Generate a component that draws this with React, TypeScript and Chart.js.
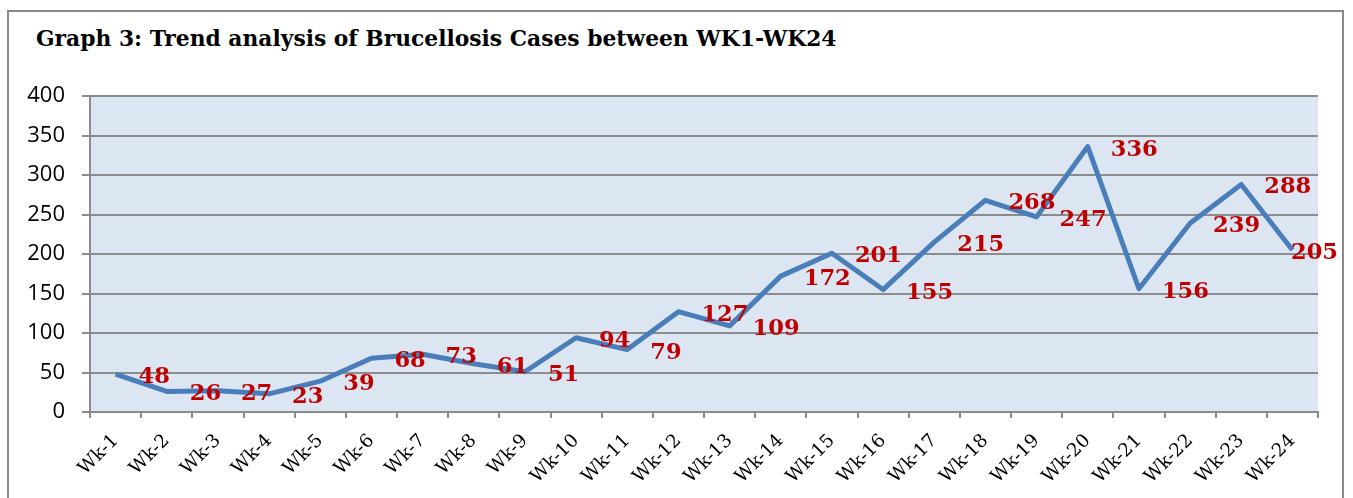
import React, { useEffect, useRef } from "react";
import { Chart, registerables } from "chart.js";

Chart.register(...registerables);

const TITLE = "Graph 3: Trend analysis of Brucellosis Cases between WK1-WK24";
const weeks = [
  "Wk-1", "Wk-2", "Wk-3", "Wk-4", "Wk-5", "Wk-6", "Wk-7", "Wk-8", "Wk-9", "Wk-10", "Wk-11", "Wk-12",
  "Wk-13", "Wk-14", "Wk-15", "Wk-16", "Wk-17", "Wk-18", "Wk-19", "Wk-20", "Wk-21", "Wk-22", "Wk-23", "Wk-24",
];
const cases = [48, 26, 27, 23, 39, 68, 73, 61, 51, 94, 79, 127, 109, 172, 201, 155, 215, 268, 247, 336, 156, 239, 288, 205];
const yMin = 0;
const yMax = 400;
const yStep = 50;

const plotBg = {
  id: "plotBg",
  beforeDraw(chart: any) {
    const { ctx, chartArea } = chart;
    ctx.save();
    ctx.fillStyle = "#dce6f2";
    ctx.fillRect(chartArea.left, chartArea.top, chartArea.right - chartArea.left, chartArea.bottom - chartArea.top);
    ctx.restore();
  },
};

const valueLabels = {
  id: "valueLabels",
  afterDatasetsDraw(chart: any) {
    const { ctx } = chart;
    const meta = chart.getDatasetMeta(0);
    const data = chart.data.datasets[0].data as number[];
    ctx.save();
    ctx.fillStyle = "#c00000";
    ctx.font = "bold 22.5px 'DejaVu Serif'";
    ctx.textAlign = "left";
    ctx.textBaseline = "alphabetic";
    const maxRight = chart.width - 15;
    meta.data.forEach((el: any, i: number) => {
      const txt = String(data[i]);
      const w = ctx.measureText(txt).width;
      const x = Math.min(el.x + 23, maxRight - w);
      ctx.fillText(txt, x, el.y + 9);
    });
    ctx.restore();
  },
};

export default function App() {
  const ref = useRef<HTMLCanvasElement | null>(null);
  useEffect(() => {
    if (!ref.current) return;
    const chart = new Chart(ref.current, {
      type: "line",
      data: {
        labels: weeks,
        datasets: [
          {
            data: cases,
            borderColor: "#4a7ebb",
            borderWidth: 5,
            pointRadius: 0,
            tension: 0,
            borderJoinStyle: "round",
            fill: false,
          },
        ],
      },
      options: {
        animation: false,
        responsive: false,
        maintainAspectRatio: false,
        layout: { padding: { top: 96, right: 35, left: 0, bottom: 0 } },
        plugins: { legend: { display: false }, title: { display: false }, tooltip: { enabled: false } },
        scales: {
          x: {
            offset: true,
            grid: { offset: true, drawOnChartArea: false, drawTicks: true, tickLength: 6, color: "#8c8c8c", lineWidth: 2 },
            border: { display: true, color: "#8c8c8c", width: 2 },
            ticks: {
              autoSkip: false,
              minRotation: 45,
              maxRotation: 45,
              color: "#000",
              padding: 12,
              font: { family: "'DejaVu Serif'", size: 18.5 },
            },
            afterFit(scale: any) {
              scale.height = 86;
            },
          },
          y: {
            min: yMin,
            max: yMax,
            ticks: { stepSize: yStep, color: "#000", padding: 17, font: { family: "'Open Sans'", size: 22 } },
            grid: { color: "#8c8c8c", lineWidth: 2, tickLength: 8 },
            border: { display: true, color: "#8c8c8c", width: 2 },
            afterFit(scale: any) {
              scale.width = 90;
            },
          },
        },
      },
      plugins: [plotBg, valueLabels],
    });
    return () => chart.destroy();
  }, []);

  return (
    <div style={{ position: "absolute", left: 0, top: 0, width: 1353, height: 498, overflow: "hidden", background: "#fff" }}>
      <div
        style={{
          position: "absolute",
          left: 7,
          top: 10,
          width: 1337,
          height: 500,
          border: "2px solid #8a8a8a",
          boxSizing: "border-box",
        }}
      />
      <div
        style={{
          position: "absolute",
          left: 36,
          top: 28,
          font: "bold 21.8px 'DejaVu Serif'",
          lineHeight: "21.8px",
          color: "#000",
          whiteSpace: "nowrap",
        }}
      >
        {TITLE}
      </div>
      <canvas ref={ref} width={1353} height={498} style={{ position: "absolute", left: 0, top: 0 }} />
    </div>
  );
}
